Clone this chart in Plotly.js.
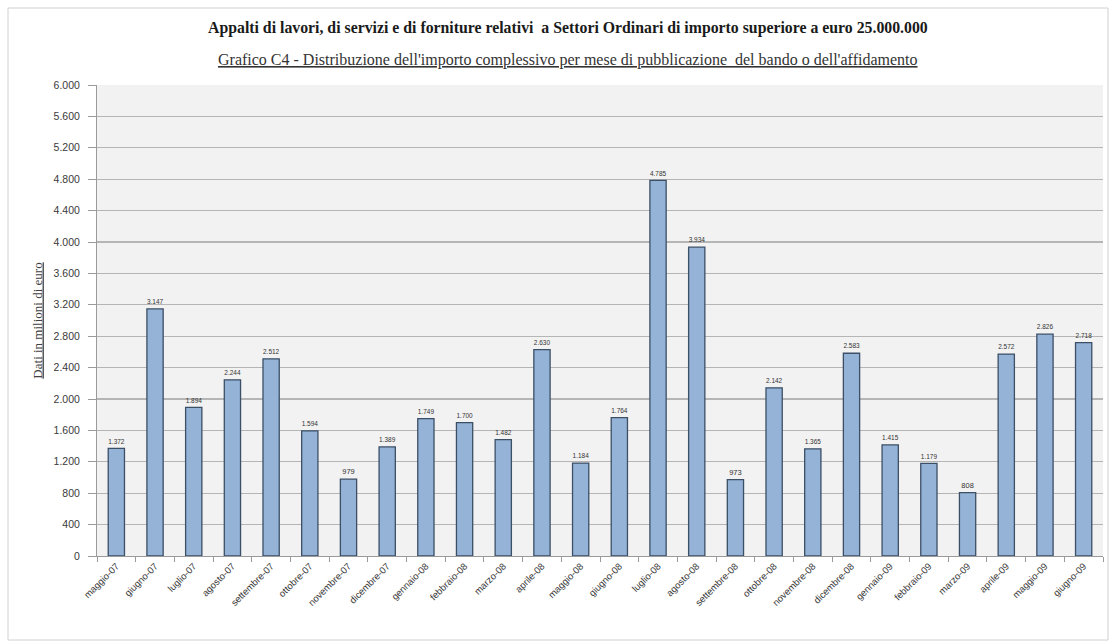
<!DOCTYPE html>
<html>
<head>
<meta charset="utf-8">
<script src="https://cdn.plot.ly/plotly-3.0.1.min.js"></script>
<style>html,body{margin:0;padding:0;background:#fff;}#chart{width:1113px;height:644px;}</style>
</head>
<body>
<div id="chart"></div>
<script>
const months = ["maggio-07","giugno-07","luglio-07","agosto-07","settembre-07","ottobre-07","novembre-07","dicembre-07",
  "gennaio-08","febbraio-08","marzo-08","aprile-08","maggio-08","giugno-08","luglio-08","agosto-08","settembre-08",
  "ottobre-08","novembre-08","dicembre-08","gennaio-09","febbraio-09","marzo-09","aprile-09","maggio-09","giugno-09"];
const importo = [1372,3147,1894,2244,2512,1594,979,1389,
  1749,1700,1482,2630,1184,1764,4785,3934,973,
  2142,1365,2583,1415,1179,808,2572,2826,2718];
const yTicks = [0,400,800,1200,1600,2000,2400,2800,3200,3600,4000,4400,4800,5200,5600,6000];

const titleText = "Appalti di lavori, di servizi e di forniture relativi  a Settori Ordinari di importo superiore a euro 25.000.000";
const subtitleText = "Grafico C4 - Distribuzione dell'importo complessivo per mese di pubblicazione  del bando o dell'affidamento";
const yTitle = "Dati in milioni di euro";

const trace = {
  type: "bar",
  x: months,
  y: importo,
  marker: {color: "#95b3d7", line: {color: "#3b4f66", width: 1.3}},
  text: importo,
  texttemplate: "%{y:,d}",
  textposition: "outside",
  textfont: {family: "Liberation Sans, Arial, sans-serif", size: 7.5, color: "#333"},
  cliponaxis: false,
  hoverinfo: "x+y"
};

const layout = {
  width: 1113, height: 644,
  margin: {l: 97, r: 10, t: 85, b: 88},
  paper_bgcolor: "#ffffff",
  plot_bgcolor: "#f2f2f2",
  separators: ",.",
  showlegend: false,
  bargap: 0.58,
  font: {family: "Liberation Sans, Arial, sans-serif", color: "#404040"},
  xaxis: {
    type: "category",
    tickangle: -45,
    tickfont: {size: 9.5, color: "#3a3a3a"},
    ticks: "outside", ticklen: 5, tickcolor: "#9a9a9a",
    tickson: "boundaries",
    showline: true, linecolor: "#9a9a9a", linewidth: 1,
    showgrid: false,
    automargin: false
  },
  yaxis: {
    range: [0, 6000],
    tickvals: yTicks,
    tickformat: ",d",
    tickfont: {size: 10.5, color: "#3a3a3a"},
    ticks: "outside", ticklen: 8, tickcolor: "#9a9a9a",
    ticklabelstandoff: 6,
    showline: true, linecolor: "#9a9a9a", linewidth: 1,
    gridcolor: "#b5b5b5", gridwidth: 1.2,
    zeroline: false,
    automargin: false,
    title: {text: "<u>" + yTitle + "</u>", font: {family: "Liberation Serif, Times New Roman, serif", size: 13, color: "#404040"}, standoff: 8}
  },
  annotations: [
    {xref: "paper", yref: "paper", x: 0.468, y: (556-28)/471, xanchor: "center", yanchor: "middle",
     text: "<b>" + titleText + "</b>", showarrow: false,
     font: {family: "Liberation Serif, Times New Roman, serif", size: 15.8, color: "#1a1a1a"}},
    {xref: "paper", yref: "paper", x: 0.468, y: (556-60)/471, xanchor: "center", yanchor: "middle",
     text: "<u>" + subtitleText + "</u>", showarrow: false,
     font: {family: "Liberation Serif, Times New Roman, serif", size: 16, color: "#333"}}
  ],
  shapes: [
    {type: "rect", xref: "paper", yref: "paper",
     x0: (8-97)/1006, x1: (1108-97)/1006, y0: (556-640)/471, y1: (556-8)/471,
     line: {color: "#d0d0d0", width: 1}, fillcolor: "rgba(0,0,0,0)", layer: "below"}
  ]
};

Plotly.newPlot("chart", [trace], layout, {displayModeBar: false, staticPlot: true});
</script>
</body>
</html>
